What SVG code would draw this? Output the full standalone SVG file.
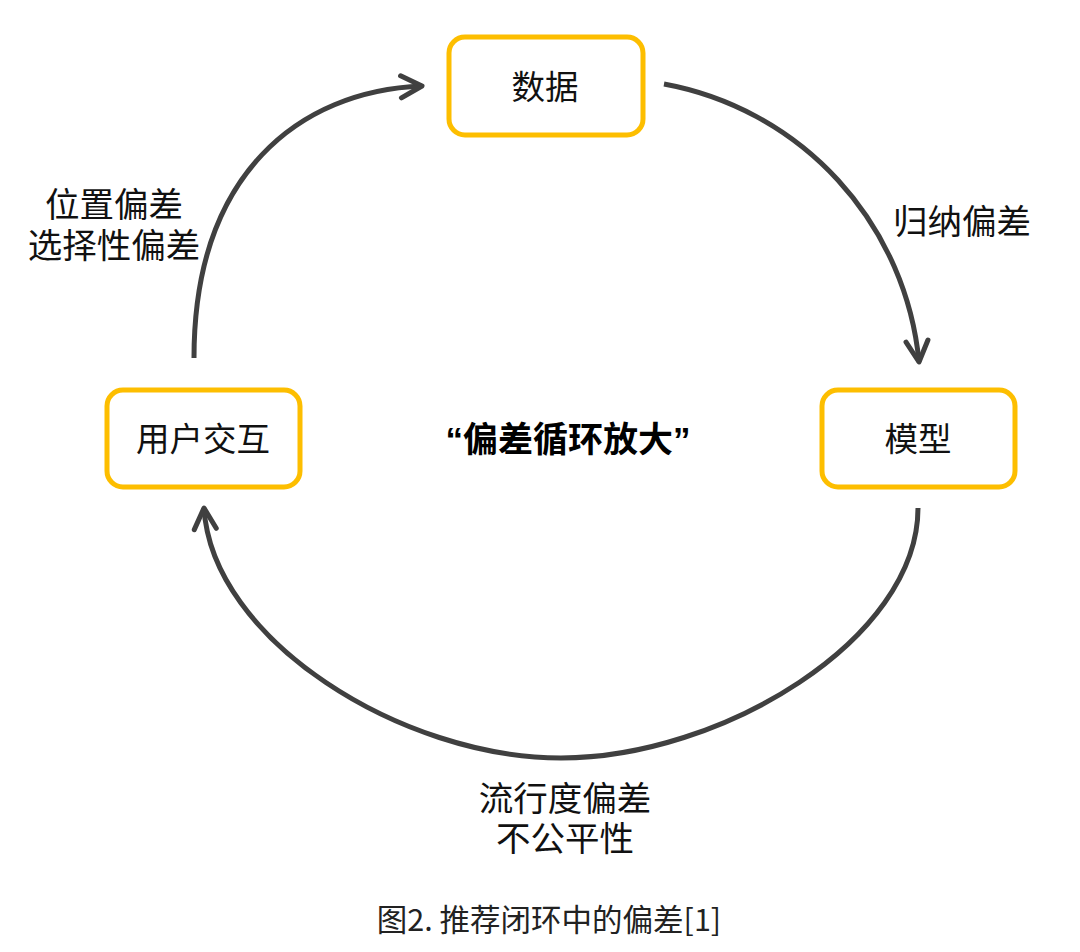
<svg xmlns="http://www.w3.org/2000/svg" width="1080" height="952" viewBox="0 0 1080 952">
<style>
  .box { fill: #ffffff; stroke: #FDBE00; stroke-width: 5; }
  .t { font-family: "Noto Sans CJK SC", sans-serif; font-size: 33.5px; fill: #111111; text-anchor: middle; }
  .lbl { font-family: "Noto Sans CJK SC", sans-serif; font-size: 34.5px; fill: #111111; text-anchor: middle; }
  .title { font-family: "Liberation Sans", "Noto Sans CJK SC", sans-serif; font-size: 35px; font-weight: bold; fill: #000000; text-anchor: middle; }
  .cap { font-family: "Noto Sans CJK SC", sans-serif; font-size: 30.5px; fill: #222222; text-anchor: middle; }
  .edge { fill: none; stroke: #404040; stroke-width: 5; marker-end: url(#arr); }
</style>
<defs>
  <marker id="arr" markerUnits="userSpaceOnUse" viewBox="-30 -16 36 32" markerWidth="36" markerHeight="32" refX="0" refY="0" orient="auto">
    <path d="M-21,-11 L0,0 L-21,11" fill="none" stroke="#404040" stroke-width="5" stroke-linecap="round" stroke-linejoin="round"/>
  </marker>
</defs>
<rect width="1080" height="952" fill="#ffffff"/>
<g id="connectors">
  <path class="edge" d="M194,358 C194,174 299,91 422,86"/>
  <path class="edge" d="M664,84 A313,313 0 0 1 919,362"/>
  <path class="edge" d="M918,508 C918,640 720,758 561,758 C402,758 212,640 204,508"/>
</g>
<g id="node-data">
  <rect class="box" x="449" y="37" width="194" height="98" rx="16"/>
  <text class="t" x="545" y="99">数据</text>
</g>
<g id="node-model">
  <rect class="box" x="822" y="390" width="193" height="97" rx="16"/>
  <text class="t" x="918" y="451">模型</text>
</g>
<g id="node-user">
  <rect class="box" x="107" y="390" width="193" height="97" rx="16"/>
  <text class="t" x="203" y="451">用户交互</text>
</g>
<g id="labels">
  <text class="lbl" x="114" y="217"><tspan x="114" y="217">位置偏差</tspan><tspan x="114" y="258">选择性偏差</tspan></text>
  <text class="lbl" x="962" y="234">归纳偏差</text>
  <text class="lbl" x="565" y="811"><tspan x="565" y="811">流行度偏差</tspan><tspan x="565" y="851">不公平性</tspan></text>
  <text class="title" x="568" y="452">“偏差循环放大”</text>
  <text class="cap" x="549" y="931">图2. 推荐闭环中的偏差[1]</text>
</g>
</svg>
